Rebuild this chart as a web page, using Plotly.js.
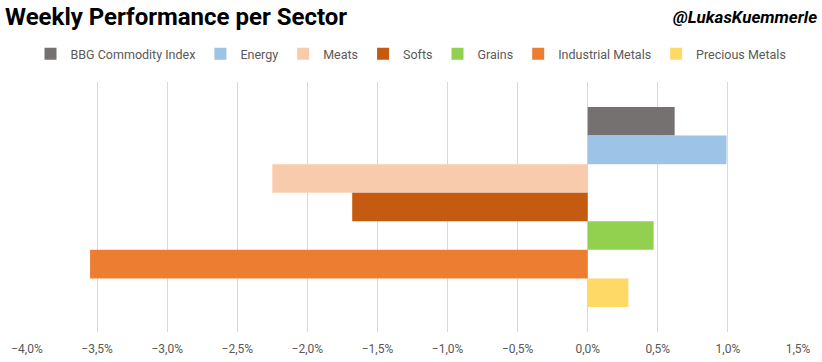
<!DOCTYPE html>
<html>
<head>
<meta charset="utf-8">
<script src="https://cdn.plot.ly/plotly-3.0.1.min.js"></script>
<style>html,body{margin:0;padding:0;background:#fff;}#chart{width:822px;height:362px;}</style>
</head>
<body>
<div id="chart"></div>
<script>
var sectors = ['BBG Commodity Index', 'Energy', 'Meats', 'Softs', 'Grains', 'Industrial Metals', 'Precious Metals'];
var weeklyChangePct = [0.62, 0.99, -2.25, -1.68, 0.47, -3.55, 0.29];
var sectorColors = ['#767171', '#9DC3E6', '#F8CBAD', '#C55A11', '#92D050', '#ED7D31', '#FFD966'];
var tickValuesPct = [-4.0, -3.5, -3.0, -2.5, -2.0, -1.5, -1.0, -0.5, 0.0, 0.5, 1.0, 1.5];
var groupLabel = ['Week'];

var font = 'Roboto, "Noto Sans", sans-serif';
var traces = sectors.map(function (name, i) {
  return {
    type: 'bar',
    orientation: 'h',
    name: name,
    y: groupLabel,
    x: [weeklyChangePct[i] / 100],
    marker: {color: sectorColors[i], line: {width: 0}},
    hoverinfo: 'skip'
  };
});

var layout = {
  width: 822,
  height: 362,
  paper_bgcolor: '#ffffff',
  plot_bgcolor: '#ffffff',
  separators: ',.',
  margin: {l: 27, r: 24, t: 82, b: 30, pad: 0},
  barmode: 'group',
  bargap: 0.2,
  bargroupgap: 0,
  showlegend: true,
  legend: {
    orientation: 'h',
    xref: 'container', yref: 'container',
    x: 0.5, xanchor: 'center',
    y: 1 - 54 / 362, yanchor: 'middle',
    font: {family: font, size: 12.5, color: '#595959'},
    itemwidth: 30,
    tracegroupgap: 0,
    traceorder: 'normal',
    borderwidth: 0
  },
  title: {
    text: '<b>Weekly Performance per Sector</b>',
    font: {family: font, size: 24, color: '#000000'},
    x: 5 / 822, xanchor: 'left', xref: 'container',
    y: 1 - 17 / 362, yanchor: 'middle', yref: 'container'
  },
  annotations: [{
    text: '<b><i>@LukasKuemmerle</i></b>',
    xref: 'paper', yref: 'paper',
    x: 1 + 21 / 771, xanchor: 'right',
    y: 1 + (82 - 17) / 250, yanchor: 'middle',
    showarrow: false,
    font: {family: font, size: 17, color: '#000000'}
  }],
  xaxis: {
    range: [-0.04, 0.015],
    tickvals: tickValuesPct.map(function (v) { return v / 100; }),
    tickformat: '.1%',
    showgrid: true,
    gridcolor: '#D9D9D9',
    gridwidth: 1,
    zeroline: false,
    showline: false,
    ticks: 'outside',
    ticklen: 6,
    tickcolor: 'rgba(0,0,0,0)',
    tickfont: {family: font, size: 12, color: '#595959'},
    fixedrange: true
  },
  yaxis: {
    autorange: 'reversed',
    showticklabels: false,
    showgrid: false,
    zeroline: false,
    showline: false,
    ticks: '',
    fixedrange: true
  }
};

Plotly.newPlot('chart', traces, layout, {displayModeBar: false, staticPlot: true});
</script>
</body>
</html>
